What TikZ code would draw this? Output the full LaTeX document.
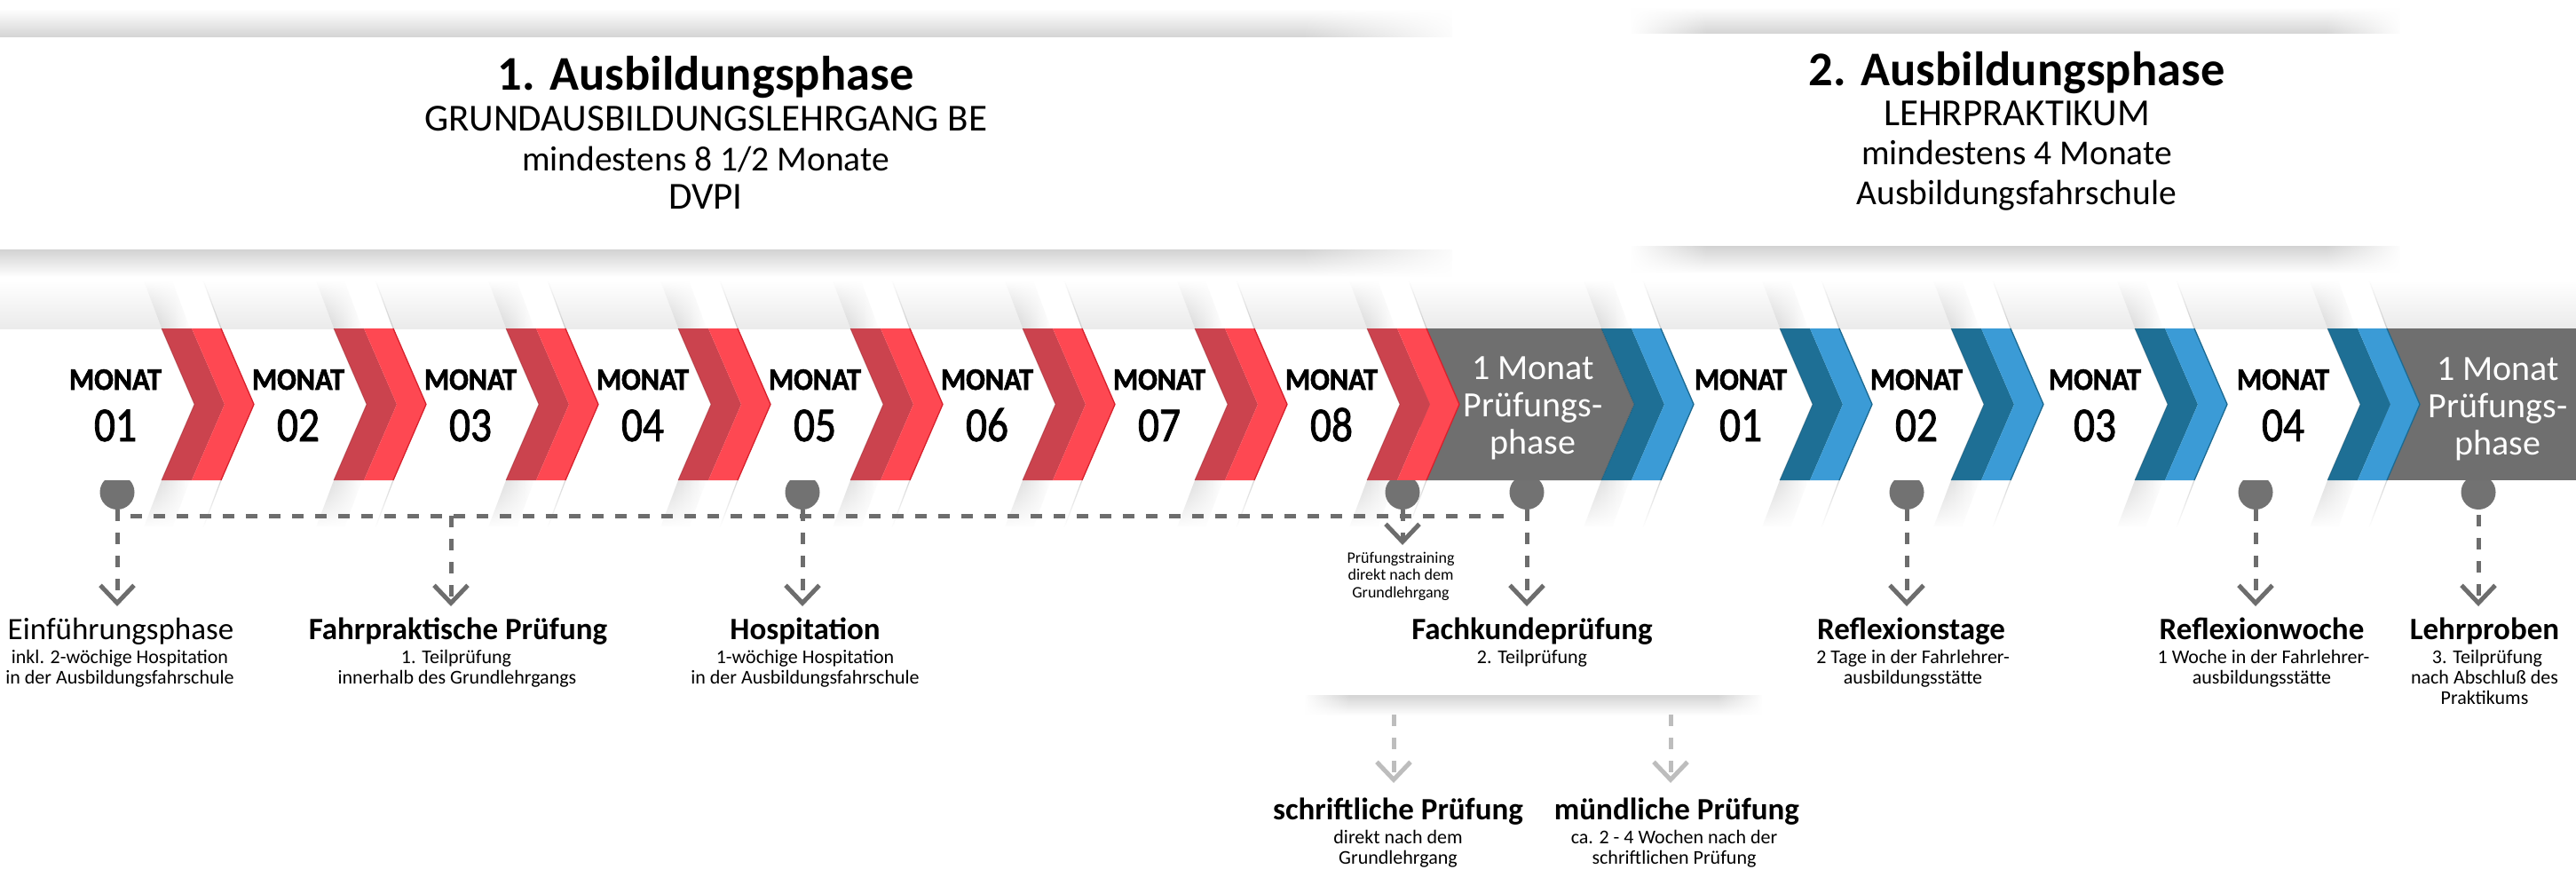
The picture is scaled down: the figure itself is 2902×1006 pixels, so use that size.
\documentclass[tikz,border=0pt]{standalone}
\usepackage{fontspec}
\setmainfont{Carlito}
\newfontfamily\monfont{Carlito}[FakeStretch=0.92, BoldFeatures={FakeBold=1.8}]
\newfontfamily\numfont{Carlito}[FakeStretch=0.86, FakeBold=1.5]
\usetikzlibrary{arrows.meta,fadings}
\definecolor{redL}{HTML}{FE4852}
\definecolor{redD}{HTML}{CB434E}
\definecolor{redE}{HTML}{D8202C}
\definecolor{bluL}{HTML}{3B9BD6}
\definecolor{bluD}{HTML}{1E6F95}
\definecolor{bluE}{HTML}{1B6A92}
\definecolor{boxg}{HTML}{6F6F6F}
\definecolor{dotg}{HTML}{727272}
\definecolor{lineg}{HTML}{6D6D6D}
\definecolor{lightg}{HTML}{BDBDBD}
\pgfdeclarehorizontalshading{hfadesh}{100bp}{color(0bp)=(black); color(25bp)=(black); color(30bp)=(white); color(70bp)=(white); color(75bp)=(black); color(100bp)=(black)}
\pgfdeclarefading{hfade}{\pgfuseshading{hfadesh}}
\newcommand{\mychev}[4]{%
  \fill[#2] (#1,370) -- (#1+34,370) -- (#1+71,455.5) -- (#1+34,541) -- (#1,541) -- (#1+37,455.5) -- cycle;
  \fill[#3] (#1+34,370) -- (#1+67,370) -- (#1+104,455.5) -- (#1+67,541) -- (#1+34,541) -- (#1+71,455.5) -- cycle;
  \draw[#4, line width=1.3pt, line join=miter] (#1+67,370) -- (#1+104,455.5) -- (#1+67,541);
  \draw[#4!60!black, opacity=0.35, line width=1pt] (#1,370) -- (#1+37,455.5) -- (#1,541);
}
\newcommand{\mystreak}[1]{%
  \fill[white] (#1,370) -- (#1+67,370) -- (#1+47,316) -- (#1-20,316) -- cycle;
  \shade[left color=gray!42, right color=white, path fading=north] (#1,370) -- (#1+32,370) -- (#1+12,316) -- (#1-20,316) -- cycle;
  \draw[gray!40, line width=1.2pt, path fading=north] (#1+67,370) -- (#1+47,316);
  \shade[left color=gray!36, right color=white, path fading=south] (#1,541) -- (#1+32,541) -- (#1+12,594) -- (#1-20,594) -- cycle;
  \draw[gray!32, line width=1.2pt, path fading=south] (#1+67,541) -- (#1+47,594);
}
\tikzset{
  txt/.style={anchor=base, inner sep=0pt, text=black},
  mon/.style={txt, font=\monfont\fontsize{35}{35}\selectfont\bfseries},
  num/.style={txt, font=\numfont\fontsize{55}{55}\selectfont},
  grt/.style={txt, text=white, font=\fontsize{40}{40}\selectfont},
  htitle/.style={txt, font=\fontsize{54.5}{54.5}\selectfont\bfseries},
  hcaps/.style={txt, font=\fontsize{43}{43}\selectfont},
  hsub/.style={txt, font=\fontsize{39.5}{39.5}\selectfont},
  ltitle/.style={txt, font=\fontsize{35}{35}\selectfont\bfseries},
  lreg/.style={txt, font=\fontsize{35}{35}\selectfont},
  lsub/.style={txt, font=\fontsize{22}{22}\selectfont},
  ltiny/.style={txt, font=\fontsize{18}{18}\selectfont},
  dotn/.style={circle, fill=dotg, minimum size=39pt, inner sep=0pt},
  dl/.style={draw=lineg, line width=5pt, dash pattern=on 13pt off 13pt},
  dll/.style={draw=lightg, line width=5pt, dash pattern=on 13pt off 13pt},
  arr/.style={-{Straight Barb[length=20pt,width=38pt]}},
}
\begin{document}
\begin{tikzpicture}[x=1pt,y=-1pt]
\useasboundingbox (0,0) rectangle (2902,1006);
\fill[white] (0,0) rectangle (2902,1006);
% header shadows
\shade[top color=white, bottom color=gray!34, path fading=hfade] (-180,10) rectangle (1645,42);
\shade[top color=gray!34, bottom color=white, path fading=hfade] (-180,282) rectangle (1645,312);
\shade[top color=white, bottom color=gray!34, path fading=hfade] (1838,8) rectangle (2705,38);
\shade[top color=gray!34, bottom color=white, path fading=hfade] (1838,278) rectangle (2705,308);
% Fachkunde box shadow
\shade[top color=gray!34, bottom color=white, path fading=hfade] (1470,783) rectangle (1985,806);
% band background
\shade[top color=white, bottom color=gray!16] (0,316) rectangle (2902,370);
% streaks
\foreach \x in {182,376,570,764,958,1152,1346,1540,1804,2005,2198,2405,2622} {\mystreak{\x}}
% gray boxes
\fill[boxg] (1600,370) -- (1804,370) -- (1841,455.5) -- (1804,541) -- (1600,541) -- cycle;
\fill[boxg] (2680,370) rectangle (2902,541);
% chevrons
\foreach \x in {182,376,570,764,958,1152,1346,1540} {\mychev{\x}{redD}{redL}{redE}}
\foreach \x in {1804,2005,2198,2405,2622} {\mychev{\x}{bluD}{bluL}{bluE}}
% header texts
\node[htitle] (h1t) at (795,102) {1. Ausbildungsphase};
\node[hcaps] (h1a) at (795,147) {GRUNDAUSBILDUNGSLEHRGANG BE};
\node[hsub] (h1b) at (795,192) {mindestens 8 1/2 Monate};
\node[hcaps] (h1c) at (795,235) {DVPI};
\node[htitle] (h2t) at (2272,97) {2. Ausbildungsphase};
\node[hcaps] (h2a) at (2272,142) {LEHRPRAKTIKUM};
\node[hsub] (h2b) at (2272,185) {mindestens 4 Monate};
\node[hsub] (h2c) at (2272,230) {Ausbildungsfahrschule};
% month texts
\foreach \n/\x in {01/130,02/336,03/530,04/724,05/918,06/1112,07/1306,08/1500} {
  \node[mon] (rm\n) at (\x,439) {MONAT};
  \node[num] (rn\n) at (\x,497) {\n};
}
\foreach \n/\x in {01/1961,02/2159,03/2360,04/2572} {
  \node[mon] (bm\n) at (\x,439) {MONAT};
  \node[num] (bn\n) at (\x,497) {\n};
}
\node[grt] (g1a) at (1727,427) {1 Monat};
\node[grt] (g1b) at (1727,469) {Prüfungs-};
\node[grt] (g1c) at (1727,511) {phase};
\node[grt] (g2a) at (2814,428) {1 Monat};
\node[grt] (g2b) at (2814,470) {Prüfungs-};
\node[grt] (g2c) at (2814,512) {phase};
% dots
\begin{scope}
\clip (0,541) rectangle (2902,600);
\node[dotn] (d1) at (132,554.5) {};
\node[dotn] (d2) at (904,554.5) {};
\node[dotn] (d3) at (1580,554.5) {};
\node[dotn] (d4) at (1720,554.5) {};
\node[dotn] (d5) at (2148,554.5) {};
\node[dotn] (d6) at (2541,554.5) {};
\node[dotn] (d7) at (2792,554.5) {};
\end{scope}
% connectors
\coordinate (h0) at (147,581);
\coordinate (h1) at (1702,581);
\coordinate (hb) at (508,581);
\coordinate (a1) at (132,683);
\coordinate (a2) at (508,683);
\coordinate (a3) at (904,683);
\coordinate (a4) at (1580,614);
\coordinate (a5) at (1720,683);
\coordinate (a6) at (2148,683);
\coordinate (a7) at (2541,683);
\coordinate (a8) at (2792,683);
\coordinate (s1) at (1570,805);
\coordinate (e1) at (1570,882);
\coordinate (s2) at (1882,805);
\coordinate (e2) at (1882,882);
\draw[dl] (h0) -- (h1);
\draw[dl, arr] (d1.south) -- (a1);
\draw[dl, arr] (hb) -- (a2);
\draw[dl, arr] (d2.south) -- (a3);
\draw[dl, arr] (d3.south) -- (a4);
\draw[dl, arr] (d4.south) -- (a5);
\draw[dl, arr] (d5.south) -- (a6);
\draw[dl, arr] (d6.south) -- (a7);
\draw[dl, arr, dash phase=20pt] (d7.south) -- (a8);
\draw[dll, arr] (s1) -- (e1);
\draw[dll, arr] (s2) -- (e2);
% labels
\node[lreg] (l1t) at (136,720) {Einführungsphase};
\node[lsub] (l1a) at (135,747) {inkl. 2-wöchige Hospitation};
\node[lsub] (l1b) at (135,770) {in der Ausbildungsfahrschule};
\node[ltitle] (l2t) at (516,720) {Fahrpraktische Prüfung};
\node[lsub] (l2a) at (514,747) {1. Teilprüfung};
\node[lsub] (l2b) at (515,770) {innerhalb des Grundlehrgangs};
\node[ltitle] (l3t) at (907,720) {Hospitation};
\node[lsub] (l3a) at (907,747) {1-wöchige Hospitation};
\node[lsub] (l3b) at (907,770) {in der Ausbildungsfahrschule};
\node[ltiny] (l4a) at (1578,634) {Prüfungstraining};
\node[ltiny] (l4b) at (1578,653) {direkt nach dem};
\node[ltiny] (l4c) at (1578,673) {Grundlehrgang};
\node[ltitle] (l5t) at (1726,720) {Fachkundeprüfung};
\node[lsub] (l5a) at (1726,747) {2. Teilprüfung};
\node[ltitle] (l6t) at (1575,923) {schriftliche Prüfung};
\node[lsub] (l6a) at (1575,950) {direkt nach dem};
\node[lsub] (l6b) at (1575,973) {Grundlehrgang};
\node[ltitle] (l7t) at (1889,923) {mündliche Prüfung};
\node[lsub] (l7a) at (1886,950) {ca. 2 - 4 Wochen nach der};
\node[lsub] (l7b) at (1886,973) {schriftlichen Prüfung};
\node[ltitle] (l8t) at (2153,720) {Reflexionstage};
\node[lsub] (l8a) at (2155,747) {2 Tage in der Fahrlehrer-};
\node[lsub] (l8b) at (2155,770) {ausbildungsstätte};
\node[ltitle] (l9t) at (2548,720) {Reflexionwoche};
\node[lsub] (l9a) at (2550,747) {1 Woche in der Fahrlehrer-};
\node[lsub] (l9b) at (2548,770) {ausbildungsstätte};
\node[ltitle] (l10t) at (2799,720) {Lehrproben};
\node[lsub] (l10a) at (2802,747) {3. Teilprüfung};
\node[lsub] (l10b) at (2799,770) {nach Abschluß des};
\node[lsub] (l10c) at (2799,793) {Praktikums};
\end{tikzpicture}
\end{document}
